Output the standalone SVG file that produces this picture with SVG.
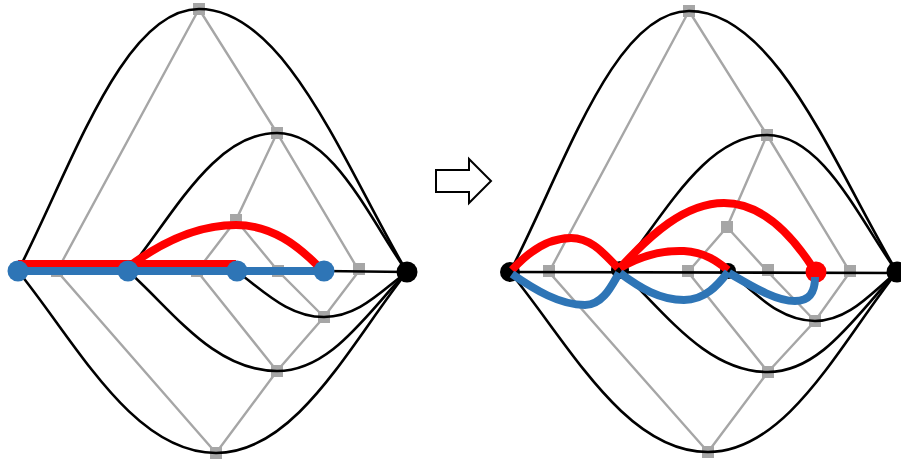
<svg xmlns="http://www.w3.org/2000/svg" width="901" height="464" viewBox="0 0 901 464">
<style>
.g{fill:none;stroke:#a6a6a6;stroke-width:2.4}
.sq{fill:#a6a6a6}
.k{fill:none;stroke:#000;stroke-width:2.6}
.r{fill:none;stroke:#ff0000;stroke-width:8}
.b{fill:none;stroke:#2e75b6;stroke-width:8}
.kn{fill:#000}
.bn{fill:#2e75b6}
.rn{fill:#ff0000}
</style>
<defs>
<rect id="sq" x="-6" y="-6" width="12" height="12" class="sq"/>
</defs>
<rect width="901" height="464" fill="#fff"/>
<!-- gray lattice connectors -->
<g id="lattice-connectors">
<path class="g" d="M199,9 L57,271 L216,453 M199,9 L277,133 L359,271 L324,317 L277,371 L216,453 M277,133 L236,220 L197,271 L277,371 M236,220 L278,271 L324,317"/>
<path class="g" d="M689,11 L549,272 L708,452 M689,11 L767,135 L850,272 L815,321 L768,372 L708,452 M767,135 L727,227 L688,272 L768,372 M727,227 L768,272 L815,321"/>
</g>
<!-- gray square nodes -->
<g id="sq-left">
<use id="L-T" href="#sq" x="199" y="9"/>
<use id="L-A" href="#sq" x="277" y="133"/>
<use id="L-B" href="#sq" x="236" y="220"/>
<use id="L-C1" href="#sq" x="57" y="271"/>
<use id="L-C2" href="#sq" x="197" y="271"/>
<use id="L-C3" href="#sq" x="278" y="271"/>
<use id="L-C4" href="#sq" x="359" y="269"/>
<use id="L-D1" href="#sq" x="324" y="317"/>
<use id="L-D2" href="#sq" x="277" y="371"/>
<use id="L-E" href="#sq" x="216" y="453"/>
</g>
<g id="sq-right">
<use id="R-T" href="#sq" x="689" y="11"/>
<use id="R-A" href="#sq" x="767" y="135"/>
<use id="R-B" href="#sq" x="727" y="227"/>
<use id="R-C1" href="#sq" x="549" y="271"/>
<use id="R-C2" href="#sq" x="688" y="271"/>
<use id="R-C3" href="#sq" x="768" y="270"/>
<use id="R-C4" href="#sq" x="850" y="271"/>
<use id="R-D1" href="#sq" x="815" y="321"/>
<use id="R-D2" href="#sq" x="768" y="372"/>
<use id="R-E" href="#sq" x="708" y="452"/>
</g>
<!-- black connectors -->
<g id="black-connectors">
<path class="k" d="M18,271 C72,166 123,9 199,9 C286,9 345,167 407,272"/>
<path class="k" d="M18,271 C77,344 133,453 216,453 C296,453 350,344 407,272"/>
<path class="k" d="M128,271 C173,216 214,133 277,133 C332,133 368,216 407,272"/>
<path class="k" d="M128,271 C173,311 214,371 277,371 C332,371 368,311 407,272"/>
<path class="k" d="M236,271 C262,289 287,317 324,317 C359,317 382,290 407,272"/>
<path class="k" d="M324,271 L407,272"/>
<path class="k" d="M510,272 C564,168 614,11 689,11 C776,11 835,168 897,272"/>
<path class="k" d="M510,272 C569,344 625,452 708,452 C787,452 840,344 897,272"/>
<path class="k" d="M620,270 C664,216 705,135 767,135 C822,135 858,217 897,272"/>
<path class="k" d="M620,270 C664,311 706,372 768,372 C822,372 858,312 897,272"/>
<path class="k" d="M728,271 C754,291 778,321 815,321 C849,321 872,292 897,272"/>
<path class="k" d="M510,272 L897,273"/>
</g>
<!-- black nodes -->
<g id="L-end"><circle class="kn" cx="407" cy="272" r="10.5"/></g>
<g id="R-n1"><circle class="kn" cx="510" cy="272" r="10"/></g>
<g id="R-n2"><circle class="kn" cx="620" cy="270" r="9"/></g>
<g id="R-n3"><circle class="kn" cx="728" cy="271" r="8"/></g>
<g id="R-end"><circle class="kn" cx="897" cy="272" r="10.5"/></g>
<g id="R-red"><circle class="rn" cx="816" cy="272" r="10.5"/></g>
<!-- coloured paths -->
<g id="path-connectors">
<path class="r" d="M18,264 L236,264"/>
<path class="b" d="M18,271 L324,271"/>
<path class="r" d="M131,265 C165,240 200,225 236,225 C272,225 298,246 318,266"/>
<path class="r" d="M512,270 C530,250 550,238 571,238 C592,238 605,255 618,268"/>
<path class="r" d="M620,268 C640,256 660,250 684,251 C705,252 718,262 728,270"/>
<path class="r" d="M620,268 C650,235 685,203 724,203 C765,203 795,240 813,268"/>
<path class="b" d="M512,274 C535,290 560,305 585,305 C603,305 612,285 619,273"/>
<path class="b" d="M620,273 C640,288 660,300 684,300 C705,300 718,285 728,272"/>
<path class="b" d="M729,273 C750,285 775,301 795,301 C810,301 815,292 815,277"/>
</g>
<!-- blue nodes -->
<g id="L-n1"><circle class="bn" cx="18" cy="271" r="10.5"/></g>
<g id="L-n2"><circle class="bn" cx="128" cy="271" r="10.5"/></g>
<g id="L-n3"><circle class="bn" cx="237" cy="271" r="10.5"/></g>
<g id="L-n4"><circle class="bn" cx="324" cy="271" r="10.5"/></g>
<!-- transformation arrow -->
<g id="arrow">
<polygon points="436,170 469,170 469,159 491,181 469,203 469,192 436,192" fill="#fff" stroke="#000" stroke-width="2"/>
</g>
</svg>
